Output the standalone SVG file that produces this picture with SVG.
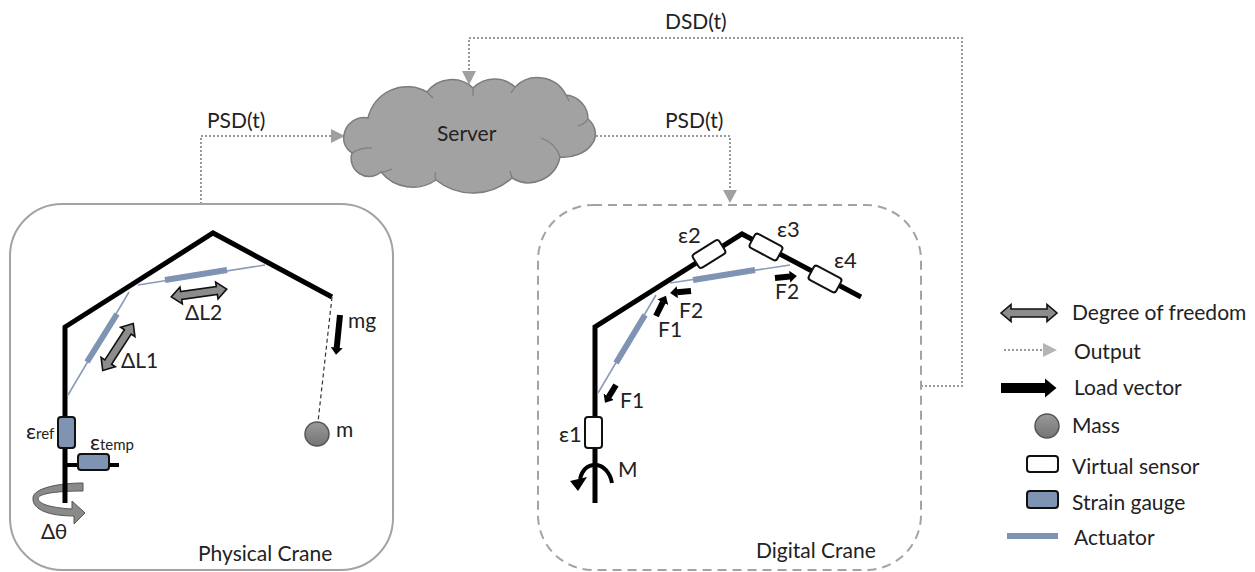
<svg xmlns="http://www.w3.org/2000/svg" xmlns:xlink="http://www.w3.org/1999/xlink" width="1255" height="572" viewBox="0 0 1255 572">
<style>
text{font-family:Lato,"Liberation Sans",sans-serif;font-size:21px;fill:#222}
.panel{fill:none;stroke:#a3a3a3;stroke-width:2}
.dash{stroke-dasharray:9 6}
.beam{fill:none;stroke:#000;stroke-width:5;stroke-linejoin:miter}
.thin{fill:none;stroke:#8b9cb8;stroke-width:1.6}
.act{fill:none;stroke:#7f93b2;stroke-width:6}
.gauge{fill:#7f93b2;stroke:#111;stroke-width:2}
.virt{fill:#fff;stroke:#111;stroke-width:2}
.out{fill:none;stroke:#999;stroke-width:2;stroke-dasharray:2 2}
.head{fill:#a0a0a0}
.load{fill:none;stroke:#000;stroke-width:6;marker-end:url(#lh)}
.mass{fill:url(#mg);stroke:#555;stroke-width:1.5}
.small{font-size:15px}
.eps{font-size:22px}
</style>
<defs>
<marker id="lh" markerUnits="strokeWidth" markerWidth="1.25" markerHeight="2" refX="0.05" refY="1" orient="auto" viewBox="0 0 1.25 2"><path d="M0 0L1.2 1L0 2Z" fill="#000"/></marker>
<linearGradient id="mg" x1="0" y1="0" x2="0" y2="1"><stop offset="0" stop-color="#9a9a9a"/><stop offset="1" stop-color="#747474"/></linearGradient>
<path id="dof" d="M-28 0L-18 -8.500L-18 -4L18 -4L18 -8.500L28 0L18 8.500L18 4L-18 4L-18 8.500Z" fill="#8c8c8c" stroke="#111" stroke-width="1.6"/>
</defs>

<g id="connectors">
<path class="out" d="M201 204V136H331"/>
<path class="head" d="M331 129L345 136L331 143Z"/>
<path class="out" d="M596 136H730V190"/>
<path class="head" d="M723 190L730 203L737 190Z"/>
<path class="out" d="M921 386H962V38H469V72"/>
<path class="head" d="M462 71L469 85L476 71Z"/>
</g>

<g id="server">
<path d="M344 135A20.500 20.500 0 0 1 368 118A40 40 0 0 1 427 92A31 31 0 0 1 473 88A30 30 0 0 1 515 87A32 32 0 0 1 566 95A24 24 0 0 1 588 119C597 126 597 138 592 144C586 153 573 158 560 157A32 32 0 0 1 512 178A58.600 58.600 0 0 1 436 180A41 41 0 0 1 381 172A18 18 0 0 1 352 153A17 17 0 0 1 344 135Z" fill="#a2a2a2" stroke="#7c7c7c" stroke-width="1.5"/>
<path d="M427 92Q430 95 433 98M473 88L473 96M515 87L511 93M566 95L569 101M588 119Q585 124 578 126M560 157C558 150 552 142 541 138M512 178L510 171M436 180Q434 175 436 172M381 172Q386 172 392 169M352 153Q362 147 372 148" fill="none" stroke="#7c7c7c" stroke-width="1.2"/>
<text x="437" y="141">Server</text>
</g>

<text x="207" y="128">PSD(t)</text>
<text x="665" y="128">PSD(t)</text>
<text x="665" y="29">DSD(t)</text>

<g id="physical-crane">
<rect class="panel" x="10" y="204" width="383" height="366" rx="52"/>
<path d="M83 483V491C60 491 40 493 38 498C38 505 55 508 72 509V501L85 513L74 524L74 516C50 516 32 510 33 498C33 488 60 483 83 483Z" fill="#8a8a8a" stroke="#555" stroke-width="1"/>
<path class="beam" d="M65 503V327L213 233L332 297"/>
<path class="beam" d="M65 465H119" style="stroke-width:4"/>
<path class="thin" d="M68 395L129 292M138 285L265 265"/>
<path class="act" d="M87 362L117 314M165 280L227 270"/>
<rect class="gauge" x="58" y="417" width="17" height="31" rx="3"/>
<rect class="gauge" x="78" y="454" width="31" height="16" rx="3"/>
<use xlink:href="#dof" href="#dof" transform="translate(199 293) rotate(-8)"/>
<use xlink:href="#dof" href="#dof" transform="translate(118 347) rotate(-57)"/>
<path d="M332 297L318 422" fill="none" stroke="#333" stroke-width="1.2" stroke-dasharray="4 3"/>
<circle class="mass" cx="317" cy="434" r="12"/>
<line class="load" x1="340" y1="315" x2="336.700" y2="348"/>
<text x="185" y="320">ΔL2</text>
<text x="121" y="368">ΔL1</text>
<text x="348" y="328">mg</text>
<text x="336" y="437">m</text>
<text x="41" y="539">Δθ</text>
<text x="26" y="439" class="eps">ε<tspan class="small">ref</tspan></text>
<text x="90" y="450" class="eps">ε<tspan class="small">temp</tspan></text>
<text x="198" y="561">Physical Crane</text>
</g>

<g id="digital-crane">
<rect class="panel dash" x="538" y="205" width="383" height="365" rx="55"/>
<path class="beam" d="M595 503V327L742 234L861 297"/>
<path class="thin" d="M598 393L656 295M670 283L790 265"/>
<path class="act" d="M616 363L645 315M693 280L755 270"/>
<rect class="virt" x="585" y="417" width="17" height="31" rx="3"/>
<rect class="virt" x="-15.500" y="-8" width="31" height="16" rx="3" transform="translate(709 254) rotate(-32)"/>
<rect class="virt" x="-15.500" y="-8" width="31" height="16" rx="3" transform="translate(766 247) rotate(28)"/>
<rect class="virt" x="-15.500" y="-8" width="31" height="16" rx="3" transform="translate(825 279) rotate(28)"/>
<line class="load" x1="616" y1="385" x2="608.600" y2="397"/>
<line class="load" x1="656" y1="316" x2="662.900" y2="302"/>
<line class="load" x1="691" y1="291" x2="677" y2="292.300"/>
<line class="load" x1="775" y1="278" x2="790" y2="276.600"/>
<path d="M612 483C610 472 603 465 595 465C587 465 582 471 580 479" fill="none" stroke="#000" stroke-width="4"/>
<path d="M570 481L587 477L578 491Z" fill="#000"/>
<text x="678" y="243" class="eps">ε2</text>
<text x="777" y="237" class="eps">ε3</text>
<text x="834" y="268" class="eps">ε4</text>
<text x="559" y="442" class="eps">ε1</text>
<text x="620" y="408">F1</text>
<text x="658" y="337">F1</text>
<text x="679" y="318">F2</text>
<text x="775" y="299">F2</text>
<text x="618" y="477">M</text>
<text x="756" y="558">Digital Crane</text>
</g>

<g id="legend">
<use xlink:href="#dof" href="#dof" transform="translate(1029 313)"/>
<text x="1072" y="320">Degree of freedom</text>
<path class="out" d="M1004 350H1043"/>
<path d="M1043 343L1057 350L1043 357Z" fill="#b5b5b5"/>
<text x="1074" y="359">Output</text>
<line class="load" x1="1001" y1="388" x2="1045" y2="388" style="stroke-width:10"/>
<text x="1074" y="395">Load vector</text>
<circle class="mass" cx="1047" cy="426" r="12"/>
<text x="1072" y="433">Mass</text>
<rect class="virt" x="1027" y="456" width="31" height="16" rx="3"/>
<text x="1072" y="474">Virtual sensor</text>
<rect class="gauge" x="1027" y="491" width="31" height="17" rx="3"/>
<text x="1072" y="510">Strain gauge</text>
<rect x="1007" y="533" width="51" height="6" fill="#7f93b2"/>
<text x="1074" y="545">Actuator</text>
</g>
</svg>
